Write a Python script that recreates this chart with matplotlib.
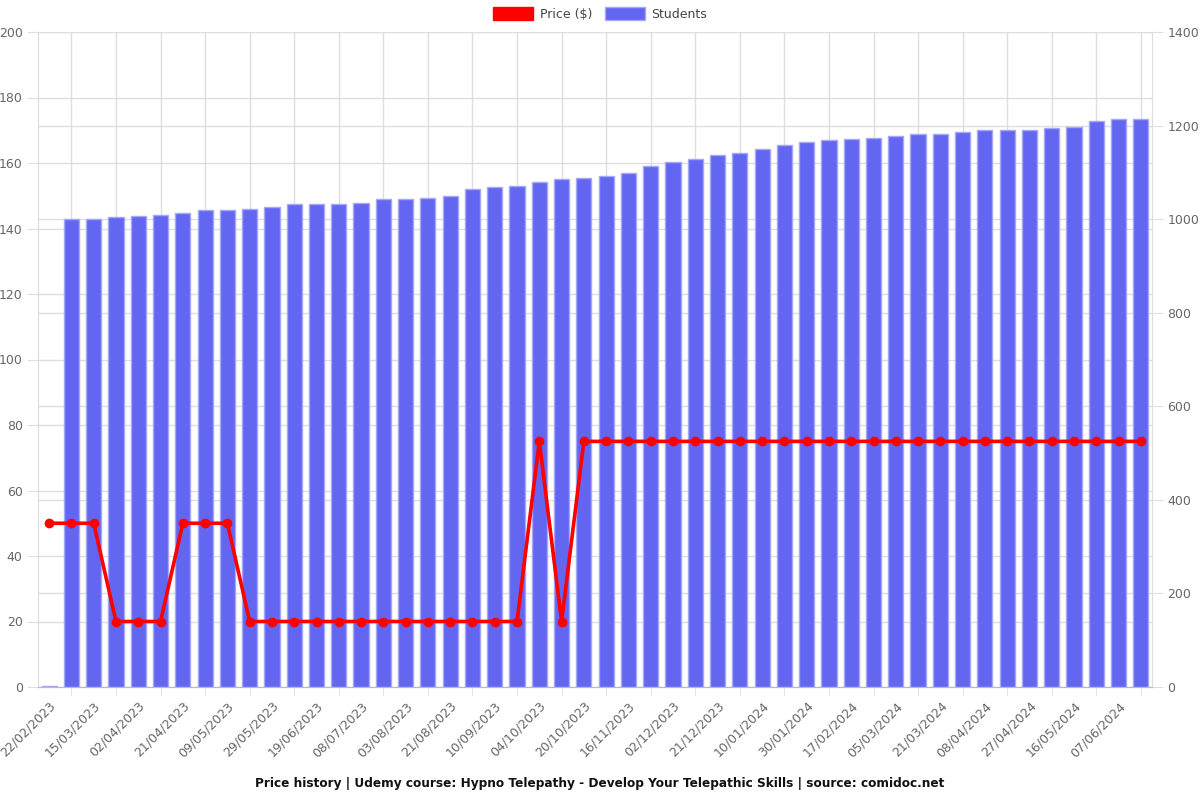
import matplotlib
matplotlib.use("Agg")
import matplotlib.pyplot as plt
from matplotlib.patches import Patch
import numpy as np

# -------------------------------
# Data
# -------------------------------
dates = [
    "22/02/2023", "15/03/2023", "02/04/2023", "21/04/2023", "09/05/2023",
    "29/05/2023", "19/06/2023", "08/07/2023", "03/08/2023", "21/08/2023",
    "10/09/2023", "04/10/2023", "20/10/2023", "16/11/2023", "02/12/2023",
    "21/12/2023", "10/01/2024", "30/01/2024", "17/02/2024", "05/03/2024",
    "21/03/2024", "08/04/2024", "27/04/2024", "16/05/2024", "07/06/2024",
]

price = [
    50, 50, 50, 20, 20, 20, 50, 50, 50, 20,
    20, 20, 20, 20, 20, 20, 20, 20, 20, 20,
    20, 20, 75, 20, 75, 75, 75, 75, 75, 75,
    75, 75, 75, 75, 75, 75, 75, 75, 75, 75,
    75, 75, 75, 75, 75, 75, 75, 75, 75, 75,
]

students = [
    3, 1000, 1001, 1005, 1006, 1009, 1014, 1019, 1019, 1022,
    1027, 1032, 1033, 1032, 1034, 1042, 1044, 1046, 1049, 1064,
    1068, 1070, 1079, 1085, 1088, 1092, 1098, 1113, 1122, 1128,
    1137, 1142, 1149, 1159, 1164, 1169, 1172, 1173, 1178, 1181,
    1181, 1186, 1190, 1190, 1190, 1194, 1197, 1209, 1214, 1214,
]

price_ticks = list(range(0, 201, 20))
student_ticks = list(range(0, 1401, 200))

title = ("Price history | Udemy course: Hypno Telepathy - Develop Your "
         "Telepathic Skills | source: comidoc.net")

# -------------------------------
# Styling
# -------------------------------
BAR_COLOR = "#6366f1"
BAR_EDGE = "#a5a7f7"
LINE_COLOR = "#ff0000"
GRID_COLOR = "#dedede"
TEXT_COLOR = "#666666"

fig = plt.figure(figsize=(12, 8), dpi=100)
ax = fig.add_axes([38 / 1200, 113 / 800, 1114 / 1200, 655 / 800])
ax2 = ax.twinx()

x = np.arange(len(students))

# Students bars on host axis (ticks on the right)
ax.bar(x, students, width=0.68, color=BAR_COLOR, edgecolor=BAR_EDGE,
       linewidth=1, zorder=3)
ax.set_xlim(-0.5, len(students) - 0.5)
ax.set_ylim(student_ticks[0], student_ticks[-1])
ax.yaxis.tick_right()
ax.set_yticks(student_ticks)

# price gridlines drawn on the bar axis so they stay behind the bars
scale = student_ticks[-1] / price_ticks[-1]
ax.set_yticks([p * scale for p in price_ticks], minor=True)

ax.set_xticks(x[::2])
ax.set_xticklabels(dates, rotation=45, ha="right", rotation_mode="anchor",
                   fontsize=9, color=TEXT_COLOR)
ax.set_xticks(x[1::2], minor=True)

ax.tick_params(axis="x", which="major", length=0, pad=9)
ax.tick_params(axis="x", which="minor", length=6, color=GRID_COLOR)
ax.tick_params(axis="y", which="major", length=8, color=GRID_COLOR,
               labelsize=9, labelcolor=TEXT_COLOR, pad=3)
ax.tick_params(axis="y", which="minor", length=0)

ax.grid(True, which="major", axis="y", color=GRID_COLOR, linewidth=1, zorder=0)
ax.grid(True, which="minor", axis="both", color=GRID_COLOR, linewidth=1, zorder=0)
ax.set_axisbelow(True)

# Price line on the twin axis (ticks on the left)
ax2.plot(x, price, color=LINE_COLOR, linewidth=2.6, marker="o",
         markersize=6, zorder=5)
ax2.set_ylim(price_ticks[0], price_ticks[-1])
ax2.yaxis.tick_left()
ax2.set_yticks(price_ticks)
ax2.tick_params(axis="y", length=8, color=GRID_COLOR, labelsize=9,
                labelcolor=TEXT_COLOR, pad=3)

for a in (ax, ax2):
    for side in ("left", "right", "top"):
        a.spines[side].set_color(GRID_COLOR)
    a.spines["bottom"].set_color("#bbbbbb")

# Legend at top
handles = [
    Patch(facecolor=LINE_COLOR, edgecolor=LINE_COLOR, label="Price ($)"),
    Patch(facecolor=BAR_COLOR, edgecolor=BAR_EDGE, label="Students"),
]
fig.legend(handles=handles, loc="upper center", bbox_to_anchor=(0.5, 1.005),
           ncol=2, frameon=False, fontsize=9, handlelength=3.2,
           handleheight=1.2, columnspacing=1.0, handletextpad=0.5,
           labelcolor="#444444")

fig.text(0.5, 1 - 783 / 800, title, ha="center", va="center",
         fontsize=8.7, fontweight="bold", color="#111111")

fig.savefig("out.png", dpi=100)
